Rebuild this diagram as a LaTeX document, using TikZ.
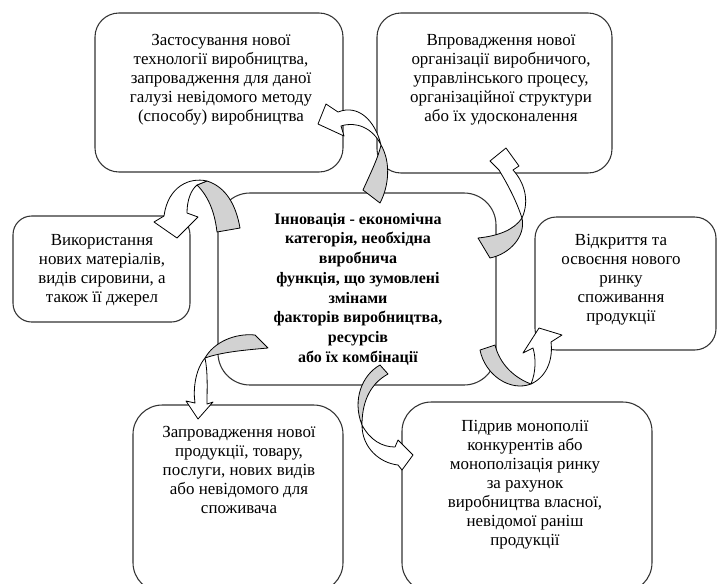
\documentclass[tikz,border=0pt]{standalone}
\usepackage{fontspec}
\setmainfont{Liberation Serif}
\begin{document}
\begin{tikzpicture}[x=0.75pt, y=-0.75pt,
    box/.style={draw=black!80, line width=0.8pt, fill=white, rounded corners=18pt},
    txt/.style={align=center, inner sep=0pt, font=\fontsize{12.7}{14.3}\selectfont},
    boldtxt/.style={txt, font=\fontsize{12}{14.8}\selectfont\bfseries},
    band/.style={draw=black, line width=0.6pt, fill=white, line join=round},
    back/.style={band, fill=gray!35}]
\useasboundingbox (0,0) rectangle (718,583);
\clip (0,0) rectangle (718,583);
% boxes
\draw[box] (95,13) rectangle (343,172);
\draw[box] (377,13) rectangle (612,173);
\draw[box, rounded corners=24pt] (218,193) rectangle (496,385);
\draw[box, rounded corners=14pt] (13,216) rectangle (190,322);
\draw[box, rounded corners=16pt] (535,217) rectangle (716,350);
\draw[box, rounded corners=22pt] (133,405) rectangle (343,592);
\draw[box, rounded corners=22pt] (402,402) rectangle (652,592);
% texts
\node[txt] (tech) at (221,80) {Застосування нової\\технології виробництва,\\запровадження для даної\\галузі невідомого методу\\(способу) виробництва};
\node[txt] (org) at (501,80) {Впровадження нової\\організації виробничого,\\управлінського процесу,\\організаційної структури\\або їх удосконалення};
\node[boldtxt] (innov) at (358,289) {Інновація - економічна\\категорія, необхідна\\виробнича\\функція, що зумовлені\\змінами\\факторів виробництва,\\ресурсів\\або їх комбінації};
\node[txt] (mat) at (102,270) {Використання\\нових матеріалів,\\видів сировини, а\\також її джерел};
\node[txt] (market) at (621,280) {Відкриття та\\освоєння нового\\ринку\\споживання\\продукції};
\node[txt] (goods) at (239,470) {Запровадження нової\\продукції, товару,\\послуги, нових видів\\або невідомого для\\споживача};
\node[txt] (monop) at (525,485) {Підрив монополії\\конкурентів або\\монополізація ринку\\за рахунок\\виробництва власної,\\невідомої раніш\\продукції};
% curved arrows
% to tech
\draw[back] (363,190) .. controls (372,170) and (378,158) .. (381,145)
  .. controls (391,162) and (389,186) .. (380,203) -- cycle;
\draw[band] (381,145) .. controls (375,120) and (358,104) .. (338,112) -- (326,104) -- (318,124)
  -- (344,136) -- (341,126) .. controls (356,121) and (373,128) .. (381,145) -- cycle;
% to org
\draw[back] (478,238) .. controls (498,236) and (514,230) .. (522,218)
  .. controls (526,236) and (510,254) .. (490,258) -- cycle;
\draw[band] (522,218) .. controls (530,200) and (524,182) .. (513,170) -- (519,166) -- (506,148)
  -- (490,161) -- (499,170) .. controls (508,185) and (516,200) .. (522,218) -- cycle;
% to mat
\draw[back] (197,185) .. controls (210,198) and (215,215) .. (217,232) -- (240,228)
  .. controls (236,205) and (226,187) .. (207,181) -- cycle;
\draw[band] (207,181) .. controls (190,177) and (168,186) .. (164,216) -- (154,222) -- (177,238)
  -- (198,217) -- (187,213) .. controls (187,200) and (191,190) .. (197,185) -- cycle;
% to goods
\draw[back] (255,335) .. controls (235,333) and (214,342) .. (205,358)
  .. controls (222,352) and (245,350) .. (268,348) -- cycle;
\draw[band] (205,358) .. controls (195,370) and (193,390) .. (195,403) -- (186,401) -- (198,419)
  -- (213,402) -- (207,404) .. controls (207,390) and (208,372) .. (205,358) -- cycle;
% to monop
\draw[back] (380,365) .. controls (362,375) and (352,400) .. (362,425)
  .. controls (362,405) and (368,385) .. (388,374) -- cycle;
\draw[band] (362,425) .. controls (370,440) and (382,447) .. (395,447) -- (398,440) -- (413,455)
  -- (402,470) -- (398,465) .. controls (380,463) and (362,448) .. (362,425) -- cycle;
% to market
\draw[back] (495,345) .. controls (500,365) and (515,378) .. (531,384)
  .. controls (510,392) and (485,375) .. (480,350) -- cycle;
\draw[band] (531,384) .. controls (536,372) and (536,358) .. (533,348) -- (523,353) -- (539,328)
  -- (562,335) -- (551,342) .. controls (553,358) and (548,376) .. (531,384) -- cycle;
\end{tikzpicture}
\end{document}
